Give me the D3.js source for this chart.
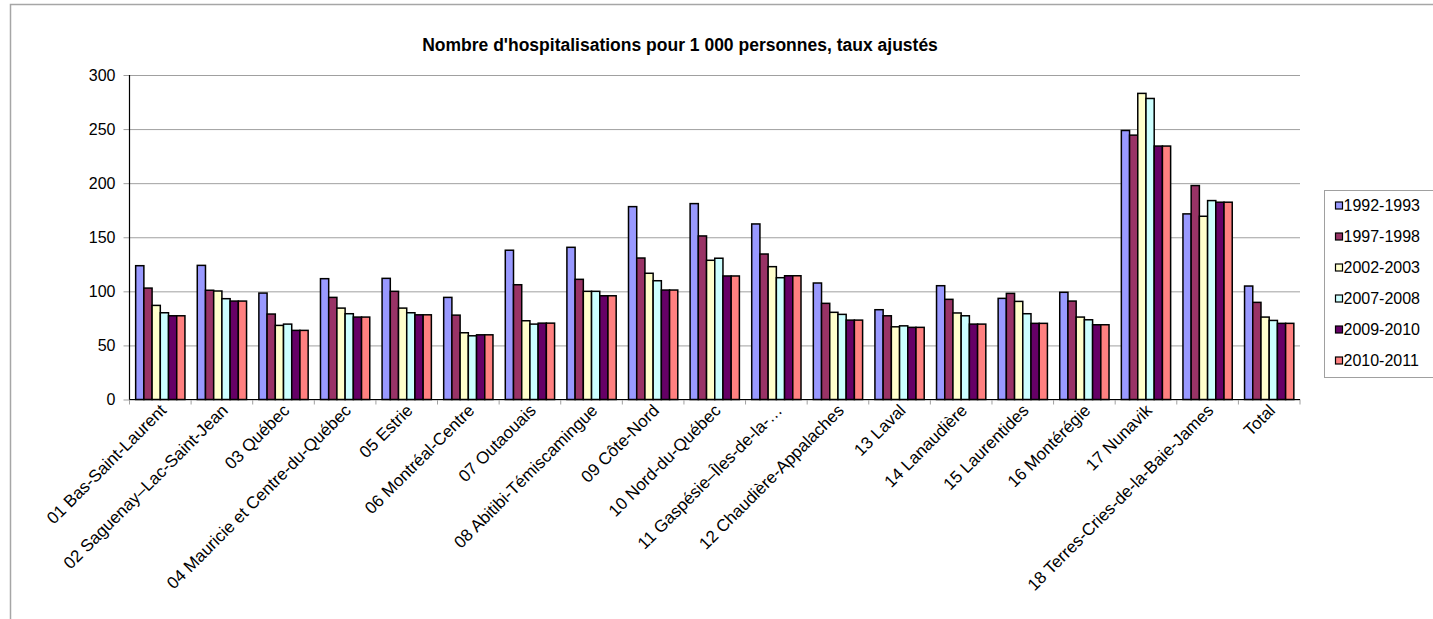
<!DOCTYPE html>
<html>
<head>
<meta charset="utf-8">
<script src="https://cdn.jsdelivr.net/npm/d3@7"></script>
<style>
    body { margin: 0; background: #fff; }
    svg { display: block; font-family: "Liberation Sans", Arial, sans-serif; }
</style>
</head>
<body>
<svg id="chart"></svg>
<script>
const regions = [
    '01 Bas-Saint-Laurent',
    '02 Saguenay–Lac-Saint-Jean',
    '03 Québec',
    '04 Mauricie et Centre-du-Québec',
    '05 Estrie',
    '06 Montréal-Centre',
    '07 Outaouais',
    '08 Abitibi-Témiscamingue',
    '09 Côte-Nord',
    '10 Nord-du-Québec',
    '11 Gaspésie–Îles-de-la-…',
    '12 Chaudière-Appalaches',
    '13 Laval',
    '14 Lanaudière',
    '15 Laurentides',
    '16 Montérégie',
    '17 Nunavik',
    '18 Terres-Cries-de-la-Baie-James',
    'Total',
];

const periods = ['1992-1993', '1997-1998', '2002-2003', '2007-2008', '2009-2010', '2010-2011'];

const rates1992 = [123.7, 124, 98.4, 111.7, 112, 94.4, 138, 140.7, 178.3, 181.1, 162.3, 107.7, 83, 105.2, 93.5, 99.1, 248.7, 171.6, 104.9];
const rates1997 = [103, 101, 79, 94.4, 100, 78, 106.1, 111.1, 130.8, 151.2, 134.5, 88.9, 77.4, 92.6, 98.1, 91, 244.4, 197.8, 89.8];
const rates2002 = [87, 100.3, 68.5, 84.5, 84.5, 61.7, 72.8, 100, 116.7, 128.7, 122.8, 80.6, 67.2, 80, 90.7, 76.2, 283, 169.4, 76.2];
const rates2007 = [80.2, 93.2, 69.7, 79.3, 80.2, 58.9, 69.7, 100, 109.8, 130.6, 112.6, 78.7, 68.1, 77.4, 79.3, 73.7, 278.3, 183.9, 73.1];
const rates2009 = [77.4, 91, 63.9, 76.2, 78.3, 59.8, 70.6, 95.9, 101.2, 114.2, 114.4, 73.4, 66.7, 69.7, 70.4, 69.1, 234.3, 182.4, 70.4];
const rates2010 = [77.4, 91, 63.9, 76.2, 78.3, 59.8, 70.6, 95.9, 101.2, 114.2, 114.4, 73.4, 66.7, 69.7, 70.4, 69.1, 234.3, 182.4, 70.4];

const yTicks = [0, 50, 100, 150, 200, 250, 300];

const title = "Nombre d'hospitalisations pour 1 000 personnes, taux ajustés";

const colors = ['#9999ff', '#993366', '#ffffcc', '#ccffff', '#660066', '#ff8080'];
const allRates = [rates1992, rates1997, rates2002, rates2007, rates2009, rates2010];

const width = 1433;
const height = 619;
const plot = { left: 129.5, right: 1300, top: 75, bottom: 399.5 };

const svg = d3.select('#chart')
    .attr('width', width)
    .attr('height', height);

// outer chart frame (runs off the right and bottom edges)
svg.append('path')
    .attr('d', `M10.5,${height + 2}V4.5H${width + 2}`)
    .attr('fill', 'none')
    .attr('stroke', '#a6a6a6')
    .attr('stroke-width', 1.5);

svg.append('text')
    .attr('x', 680)
    .attr('y', 51)
    .attr('text-anchor', 'middle')
    .attr('font-size', 17.5)
    .attr('font-weight', 'bold')
    .text(title);

const x0 = d3.scaleBand()
    .domain(regions)
    .range([plot.left, plot.right])
    .paddingInner(0.2)
    .paddingOuter(0.1);

const x1 = d3.scaleBand()
    .domain(periods)
    .range([0, x0.bandwidth()]);

const y = d3.scaleLinear()
    .domain([0, 300])
    .range([plot.bottom, plot.top]);

// gridlines + y labels
const yAxis = svg.append('g')
    .attr('transform', `translate(${plot.left},0)`)
    .call(d3.axisLeft(y)
        .tickValues(yTicks)
        .tickSize(-(plot.right - plot.left))
        .tickPadding(14)
        .tickSizeOuter(0));

yAxis.select('.domain').remove();
yAxis.selectAll('.tick line')
    .attr('x1', -6)
    .attr('stroke', '#a0a0a0');
yAxis.selectAll('.tick text')
    .attr('font-size', 16)
    .attr('font-family', '"Liberation Sans", Arial, sans-serif')
    .attr('fill', '#000');

const rows = regions.map((name, i) => ({
    name,
    values: periods.map((p, k) => ({ period: p, value: allRates[k][i], color: colors[k] })),
}));

svg.append('g')
    .selectAll('g')
    .data(rows)
    .join('g')
    .attr('transform', d => `translate(${x0(d.name)},0)`)
    .selectAll('rect')
    .data(d => d.values)
    .join('rect')
    .attr('x', d => x1(d.period))
    .attr('y', d => y(d.value))
    .attr('width', x1.bandwidth())
    .attr('height', d => y(0) - y(d.value))
    .attr('fill', d => d.color)
    .attr('stroke', '#000')
    .attr('stroke-width', 1.5);

// x axis: ticks between categories
const xAxis = svg.append('g')
    .attr('transform', `translate(0,${plot.bottom})`);

xAxis.selectAll('line.sep')
    .data(d3.range(regions.length + 1))
    .join('line')
    .attr('class', 'sep')
    .attr('x1', i => plot.left + i * x0.step())
    .attr('x2', i => plot.left + i * x0.step())
    .attr('y1', 0)
    .attr('y2', 5)
    .attr('stroke', '#a0a0a0');

xAxis.append('line')
    .attr('x1', plot.left)
    .attr('x2', plot.right)
    .attr('stroke', '#000')
    .attr('stroke-width', 1.2);

xAxis.selectAll('text')
    .data(regions)
    .join('text')
    .attr('transform', d => `translate(${x0(d) + x0.bandwidth() / 2 + 7},${12}) rotate(-45)`)
    .attr('text-anchor', 'end')
    .attr('font-size', 17)
    .text(d => d);

svg.append('line')
    .attr('x1', plot.left)
    .attr('x2', plot.left)
    .attr('y1', plot.top)
    .attr('y2', plot.bottom)
    .attr('stroke', '#000')
    .attr('stroke-width', 1.2);

// legend
const legend = svg.append('g')
    .attr('transform', 'translate(1324.5,190.5)');

legend.append('rect')
    .attr('width', 140)
    .attr('height', 187)
    .attr('fill', '#fff')
    .attr('stroke', '#a0a0a0');

const item = legend.selectAll('g.item')
    .data(periods)
    .join('g')
    .attr('class', 'item')
    .attr('transform', (d, i) => `translate(0,${15 + i * 31})`);

item.append('rect')
    .attr('x', 11)
    .attr('y', -3.5)
    .attr('width', 7)
    .attr('height', 7)
    .attr('fill', (d, i) => colors[i])
    .attr('stroke', '#000')
    .attr('stroke-width', 1.2);

item.append('text')
    .attr('x', 19)
    .attr('dy', '0.36em')
    .attr('font-size', 16)
    .text(d => d);
</script>
</body>
</html>
